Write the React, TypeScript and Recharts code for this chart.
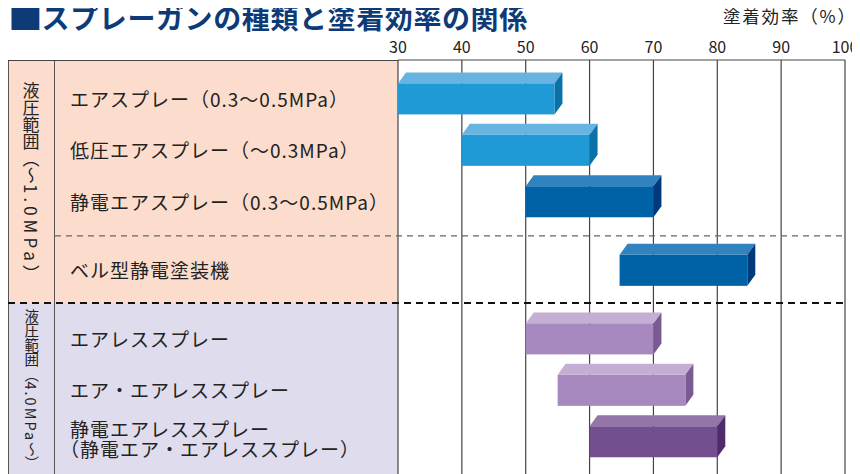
import React from 'react';
import { BarChart, Bar, XAxis, YAxis, CartesianGrid } from 'recharts';

const FONT = '"Noto Sans CJK JP", "Noto Sans", sans-serif';

const titleMark = '■';
const title = 'スプレーガンの種類と塗着効率の関係';
const unitLabel = '塗着効率（%）';

const methodLabels = [
  'エアスプレー（0.3～0.5MPa）',
  '低圧エアスプレー（～0.3MPa）',
  '静電エアスプレー（0.3～0.5MPa）',
  'ベル型静電塗装機',
  'エアレススプレー',
  'エア・エアレススプレー',
  '静電エアレススプレー\n（静電エア・エアレススプレー）',
];
const efficiencyLow = [30, 40, 50, 64.7, 50, 55, 60];
const efficiencyHigh = [54.5, 60, 70, 84.7, 70, 75, 80];
const xTicks = [30, 40, 50, 60, 70, 80, 90, 100];
const groupLabels = [
  { head: '液圧範囲（～', latin: '1.0MPa', tail: '）' },
  { head: '液圧範囲（', latin: '4.0MPa', tail: '～）' },
];

// layout: rows sit on a finer band scale so the group gaps come out right
const ROW_SLOTS = [0, 3, 6, 10, 14, 17, 20];
const THIN_SEP_SLOT = 8;
const THICK_SEP_SLOT = 12;
const SLOT_COUNT = 21;

const TONES: Record<string, { front: string; top: string; side: string }> = {
  sky: { front: '#1f9ad6', top: '#67b3e2', side: '#0b72a8' },
  navy: { front: '#0062a6', top: '#3183bf', side: '#003a7a' },
  lilac: { front: '#a889bf', top: '#c4aed3', side: '#7b5a93' },
  plum: { front: '#744f8f', top: '#9375a8', side: '#4f2b6b' },
};
const ROW_TONE = ['sky', 'sky', 'navy', 'navy', 'lilac', 'lilac', 'plum'];

const W = 852;
const H = 466;
const PLOT_LEFT = 390;
const PLOT_RIGHT = 837;
const PLOT_TOP = 52;
const SPLIT_Y = 295;

type Slot = { key: string; row: number; sep: string | null; range: [number, number] | null };

const slots: Slot[] = Array.from({ length: SLOT_COUNT }, (_, i) => {
  const row = ROW_SLOTS.indexOf(i);
  return {
    key: `s${i}`,
    row,
    sep: i === THIN_SEP_SLOT ? 'thin' : i === THICK_SEP_SLOT ? 'thick' : null,
    range: row >= 0 ? [efficiencyLow[row], efficiencyHigh[row]] : null,
  };
});

const Box3D = (props: any) => {
  const { x, y, width, height, payload } = props;
  if (!payload || payload.row < 0 || !width) return <g />;
  const tone = TONES[ROW_TONE[payload.row]];
  const cy = y + height / 2;
  const top = cy - 15.5;
  const bottom = cy + 15.5;
  const dx = 8;
  const dy = 11;
  const right = x + width;
  return (
    <g>
      <polygon points={`${x},${top} ${right},${top} ${right + dx},${top - dy} ${x + dx},${top - dy}`} fill={tone.top} />
      <polygon
        points={`${right},${top} ${right + dx},${top - dy} ${right + dx},${bottom - dy} ${right},${bottom}`}
        fill={tone.side}
      />
      <rect x={x} y={top} width={width} height={31} fill={tone.front} />
    </g>
  );
};

const RowTick = (props: any) => {
  const { y, payload } = props;
  const slot = slots.find((s) => s.key === payload.value);
  if (!slot) return <g />;
  if (slot.sep === 'thin') {
    return <line x1={47} x2={PLOT_RIGHT} y1={y} y2={y} stroke="#666" strokeWidth={1.3} strokeDasharray="6 5" />;
  }
  if (slot.sep === 'thick') {
    return <line x1={0} x2={PLOT_RIGHT} y1={y - 1.5} y2={y - 1.5} stroke="#111" strokeWidth={2.2} strokeDasharray="7 5" />;
  }
  if (slot.row < 0) return <g />;
  const lines = methodLabels[slot.row].split('\n');
  const base = lines.length === 1 ? [y + 8] : [y - 4.2, y + 15];
  return (
    <g>
      {lines.map((t, i) => (
        <text
          key={i}
          x={i === 0 ? 62 : 52}
          y={base[i]}
          fill="#222"
          fontSize={19}
          fontFamily={FONT}
          letterSpacing={1}
        >
          {t}
        </text>
      ))}
    </g>
  );
};

const GroupLabel = ({ top, height, size, spacing, label }: any) => (
  <div
    style={{
      position: 'absolute',
      left: 0,
      top,
      width: 46,
      height,
      display: 'flex',
      alignItems: 'center',
      justifyContent: 'center',
    }}
  >
    <div
      style={{
        writingMode: 'vertical-rl',
        textOrientation: 'mixed',
        fontFamily: FONT,
        fontSize: size,
        color: '#222',
        lineHeight: 1,
      }}
    >
      {label.head}
      <span style={{ letterSpacing: spacing }}>{label.latin}</span>
      {label.tail}
    </div>
  </div>
);

export default function App() {
  return (
    <div style={{ position: 'relative', width: W, height: H, fontFamily: FONT }}>
      <div
        style={{
          position: 'absolute',
          left: 0,
          top: -6,
          fontSize: 28,
          lineHeight: '28px',
          fontWeight: 700,
          color: '#0d3b78',
          letterSpacing: 0.6,
          whiteSpace: 'nowrap',
        }}
      >
        <span style={{ display: 'inline-block', fontSize: 31, transform: 'scaleX(1.12)', transformOrigin: 'left center', marginRight: 2 }}>
          {titleMark}
        </span>
        {title}
      </div>
      <div
        style={{
          position: 'absolute',
          left: 715,
          top: -1,
          fontSize: 17.5,
          lineHeight: '17.5px',
          color: '#222',
          letterSpacing: 1.8,
          whiteSpace: 'nowrap',
        }}
      >
        {unitLabel}
      </div>

      <div style={{ position: 'absolute', left: 0, top: PLOT_TOP, width: PLOT_LEFT, height: SPLIT_Y - PLOT_TOP, background: '#fcddcd' }} />
      <div style={{ position: 'absolute', left: 0, top: SPLIT_Y, width: PLOT_LEFT, height: H - SPLIT_Y, background: '#dfdcee' }} />
      <div style={{ position: 'absolute', left: 0, top: PLOT_TOP, width: 1.4, height: H - PLOT_TOP, background: '#555' }} />
      <div style={{ position: 'absolute', left: 46, top: PLOT_TOP, width: 1.4, height: H - PLOT_TOP, background: '#555' }} />
      <div style={{ position: 'absolute', left: 0, top: PLOT_TOP - 0.5, width: PLOT_LEFT, height: 1.2, background: '#444' }} />

      <GroupLabel top={PLOT_TOP} height={SPLIT_Y - PLOT_TOP} size={17} spacing={4} label={groupLabels[0]} />
      <GroupLabel top={SPLIT_Y} height={H - SPLIT_Y + 4} size={14.5} spacing={2} label={groupLabels[1]} />

      <div style={{ position: 'absolute', left: 0, top: 0 }}>
        <BarChart
          width={W}
          height={H}
          data={slots}
          layout="vertical"
          margin={{ top: 0, right: W - PLOT_RIGHT, bottom: 0, left: 0 }}
        >
          <CartesianGrid horizontal={false} stroke="#444" strokeWidth={1.2} />
          <XAxis
            type="number"
            orientation="top"
            domain={[30, 100]}
            ticks={xTicks}
            height={PLOT_TOP}
            tickSize={0}
            tickMargin={7}
            axisLine={{ stroke: '#444', strokeWidth: 1.2 }}
            tick={{ fontSize: 16, fill: '#222', fontFamily: FONT }}
            interval={0}
          />
          <YAxis
            type="category"
            dataKey="key"
            width={PLOT_LEFT}
            axisLine={false}
            tickLine={false}
            interval={0}
            padding={{ top: 30.2, bottom: 23.8 }}
            tick={(p: any) => <RowTick {...p} />}
          />
          <Bar dataKey="range" isAnimationActive={false} shape={(p: any) => <Box3D {...p} />} />
        </BarChart>
      </div>
    </div>
  );
}
